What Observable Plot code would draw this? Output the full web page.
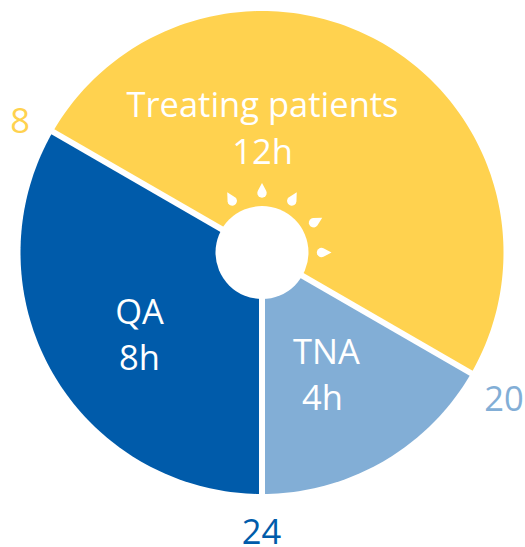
<!DOCTYPE html>
<html>
<head>
<meta charset="utf-8">
<script src="https://cdn.jsdelivr.net/npm/d3@7"></script>
<script src="https://cdn.jsdelivr.net/npm/@observablehq/plot@0.6"></script>
<style>html,body{margin:0;padding:0;background:#fff}svg{display:block}</style>
</head>
<body>
<div id="chart"></div>
<script>
// Data
const sliceNames = ["QA", "Treating patients", "TNA"];
const sliceStart = [0, 8, 20];
const sliceHours = [8, 12, 4];
const sliceColors = ["#005BAA", "#FFD24F", "#82AED6"];
const tickHours = [8, 20, 24];
const tickColors = ["#FFD24F", "#82AED6", "#005BAA"];
const rayHours = [10, 12, 14, 16, 18];

// Layout (pixels of the 525x547 canvas mapped by linear x/y scales)
const W = 525, H = 547, CX = 261.5, CY = 252, R = 241.5;
const polar = (h, r) => [CX - r * Math.sin(h * Math.PI / 12), CY + r * Math.cos(h * Math.PI / 12)];

const wedgePts = [];
sliceNames.forEach((name, i) => {
  wedgePts.push({slice: name, p: [CX, CY]});
  const n = sliceHours[i] * 12;
  for (let k = 0; k <= n; k++) {
    wedgePts.push({slice: name, p: polar(sliceStart[i] + sliceHours[i] * k / n, R)});
  }
});

const seps = sliceStart.map(h => ({a: [CX, CY], b: polar(h, R + 3)}));

// Sun ray: teardrop with its tip pointing outward
const rayPts = [];
rayHours.forEach(h => {
  const th = h * Math.PI / 12;
  const ux = -Math.sin(th), uy = Math.cos(th);
  const vx = -uy, vy = ux;
  const base = 59.5, rad = 4.7, tip = 69.5;
  const pts = [[tip, 0]];
  for (let k = -5; k <= 5; k++) {
    const a = k / 5 * 2.0;
    pts.push([base - rad * Math.cos(a), rad * Math.sin(a)]);
  }
  pts.forEach(([l, w]) => rayPts.push({ray: String(h), p: [CX + l * ux + w * vx, CY + l * uy + w * vy]}));
});

const tickPos = {8: [19.5, 121], 20: [503.5, 399], 24: [261, 532]};
const ticks = tickHours.map((h, i) => ({label: String(h), color: tickColors[i], p: tickPos[h]}));

const labels = [
  {t: sliceNames[1], x: 262, y: 105},
  {t: sliceHours[1] + "h", x: 262, y: 152},
  {t: sliceNames[0], x: 139, y: 312},
  {t: sliceHours[0] + "h", x: 139, y: 358},
  {t: sliceNames[2], x: 326, y: 352},
  {t: sliceHours[2] + "h", x: 322, y: 398}
];

const FONT = "'Open Sans', sans-serif";
const chart = Plot.plot({
  width: W, height: H,
  margin: 0,
  x: {domain: [0, W], axis: null},
  y: {domain: [H, 0], axis: null},
  color: {domain: sliceNames, range: sliceColors, legend: false},
  style: {background: "#fff"},
  marks: [
    Plot.line(wedgePts, {x: d => d.p[0], y: d => d.p[1], z: "slice", fill: "slice", stroke: null}),
    Plot.link(seps, {x1: d => d.a[0], y1: d => d.a[1], x2: d => d.b[0], y2: d => d.b[1], stroke: "#fff", strokeWidth: 6}),
    Plot.dot([[CX, CY]], {x: d => d[0], y: d => d[1], r: 46.5, fill: "#fff", stroke: null}),
    Plot.line(rayPts, {x: d => d.p[0], y: d => d.p[1], z: "ray", fill: "#fff", stroke: null}),
    Plot.text(labels, {x: "x", y: "y", text: "t", fill: "#fff", fontSize: 34.5, fontFamily: FONT}),
    Plot.text(ticks, {x: d => d.p[0], y: d => d.p[1], text: "label", fill: d => d.color, fontSize: 34.5, fontFamily: FONT})
  ]
});
document.getElementById("chart").append(chart);
</script>
</body>
</html>
